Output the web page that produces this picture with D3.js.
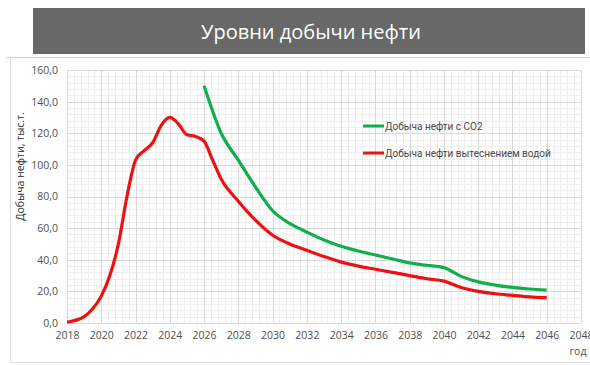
<!DOCTYPE html>
<html>
<head>
<meta charset="utf-8">
<script src="https://cdn.jsdelivr.net/npm/d3@7"></script>
<style>
  body { margin: 0; background: #fff; }
  text { font-family: "Open Sans", "DejaVu Sans", sans-serif; }
</style>
</head>
<body>
<div id="vis"></div>
<script>
// Oil production levels chart

/* *************************** Data ***************************** */
var waterYears = [2018, 2019, 2019.5, 2020, 2020.5, 2021, 2021.5, 2022, 2022.5, 2023, 2023.5,
    2024, 2024.5, 2025, 2025.5, 2026, 2026.5, 2027, 2028, 2029, 2030, 2031, 2032, 2033,
    2034, 2035, 2036, 2037, 2038, 2039, 2040, 2041, 2042, 2043, 2044, 2045, 2046];
var waterValues = [0.5, 4, 9, 17, 30, 50, 80, 103, 109, 114, 125,
    130, 126, 119, 118, 115, 103, 91, 77, 65, 55.5, 50, 46, 42,
    38.5, 36, 34, 32, 30, 28, 26.5, 22.5, 20, 18.5, 17.5, 16.5, 16];

var co2Years = [2026, 2027, 2028, 2029, 2030, 2031, 2032, 2033, 2034, 2035, 2036, 2037,
    2038, 2039, 2040, 2041, 2042, 2043, 2044, 2045, 2046];
var co2Values = [150, 120, 103, 86, 71, 63, 57.5, 52.5, 48.5, 45.5, 43, 40.5,
    38, 36.5, 35, 29.5, 26, 24, 22.5, 21.5, 20.8];

var xTicks = d3.range(2018, 2049, 2);
var yTicks = d3.range(0, 161, 20);

var seriesNames = ['Добыча  нефти с CO2', 'Добыча  нефти вытеснением водой'];
var chartTitle = 'Уровни добычи нефти';
var yTitle = 'Добыча нефти, тыс.т.';
var xTitle = 'год';

/* *************************** Settings ***************************** */
var width = 590;
var height = 365;
var margin = { left: 67, right: 9, top: 70, bottom: 42 };
var drawWidth = width - margin.left - margin.right;
var drawHeight = height - margin.top - margin.bottom;

var svg = d3.select('#vis')
    .append('svg')
    .attr('width', width)
    .attr('height', height);

// Title bar
svg.append('rect')
    .attr('x', 33).attr('y', 8)
    .attr('width', 552).attr('height', 46)
    .attr('fill', '#686868');
svg.append('text')
    .attr('x', 311).attr('y', 39)
    .attr('text-anchor', 'middle')
    .attr('fill', '#fff')
    .style('font-size', '20px')
    .text(chartTitle);

// Chart frame lines
svg.append('line').attr('x1', 6).attr('x2', 590).attr('y1', 57.5).attr('y2', 57.5)
    .attr('stroke', '#d4d4d4');
svg.append('line').attr('x1', 10.5).attr('x2', 10.5).attr('y1', 57).attr('y2', 363)
    .attr('stroke', '#e0e0e0');
svg.append('line').attr('x1', 10).attr('x2', 590).attr('y1', 362.5).attr('y2', 362.5)
    .attr('stroke', '#e0e0e0');

var g = svg.append('g')
    .attr('transform', 'translate(' + margin.left + ',' + margin.top + ')');

/* *************************** Scales ***************************** */
var xScale = d3.scaleLinear().domain([2018, 2048]).range([0, drawWidth]);
var yScale = d3.scaleLinear().domain([0, 160]).range([drawHeight, 0]);

// Minor grid
var minorX = d3.range(2018, 2048.01, 0.4);
var minorY = d3.range(0, 160.01, 4);
g.selectAll('.minorx').data(minorX).enter().append('line')
    .attr('x1', function(d) { return Math.round(xScale(d)) + 0.5; })
    .attr('x2', function(d) { return Math.round(xScale(d)) + 0.5; })
    .attr('y1', 0).attr('y2', drawHeight)
    .attr('stroke', '#eeeeee');
g.selectAll('.minory').data(minorY).enter().append('line')
    .attr('y1', function(d) { return Math.round(yScale(d)) + 0.5; })
    .attr('y2', function(d) { return Math.round(yScale(d)) + 0.5; })
    .attr('x1', 0).attr('x2', drawWidth)
    .attr('stroke', '#eeeeee');

// Major grid
g.selectAll('.majorx').data(xTicks).enter().append('line')
    .attr('x1', function(d) { return Math.round(xScale(d)) + 0.5; })
    .attr('x2', function(d) { return Math.round(xScale(d)) + 0.5; })
    .attr('y1', 0).attr('y2', drawHeight)
    .attr('stroke', '#d9d9d9');
g.selectAll('.majory').data(yTicks).enter().append('line')
    .attr('y1', function(d) { return Math.round(yScale(d)) + 0.5; })
    .attr('y2', function(d) { return Math.round(yScale(d)) + 0.5; })
    .attr('x1', 0).attr('x2', drawWidth)
    .attr('stroke', '#d9d9d9');

/* *************************** Axes ***************************** */
var fmt = function(d) { return d3.format('.1f')(d).replace('.', ','); };

var xAxis = d3.axisBottom(xScale).tickValues(xTicks).tickFormat(d3.format('d')).tickSize(0).tickPadding(9);
var yAxis = d3.axisLeft(yScale).tickValues(yTicks).tickFormat(fmt).tickSize(0).tickPadding(9);

var xAxisG = g.append('g')
    .attr('transform', 'translate(0,' + drawHeight + ')')
    .call(xAxis);
var yAxisG = g.append('g').call(yAxis);

[xAxisG, yAxisG].forEach(function(a) {
    a.select('.domain').remove();
    a.selectAll('text')
        .attr('fill', '#505050')
        .style('font-size', '10.5px')
        .style('font-family', '"Open Sans", sans-serif');
});

// Axis titles
svg.append('text')
    .attr('transform', 'translate(24,' + (margin.top + drawHeight / 2 - 30) + ') rotate(-90)')
    .attr('text-anchor', 'middle')
    .attr('fill', '#303030')
    .style('font-size', '10.5px')
    .text(yTitle);
svg.append('text')
    .attr('x', 578).attr('y', 355)
    .attr('text-anchor', 'middle')
    .attr('fill', '#505050')
    .style('font-size', '10.5px')
    .text(xTitle);

/* *************************** Lines ***************************** */
var line = d3.line()
    .x(function(d) { return xScale(d[0]); })
    .y(function(d) { return yScale(d[1]); })
    .curve(d3.curveMonotoneX);

var co2Data = d3.zip(co2Years, co2Values);
var waterData = d3.zip(waterYears, waterValues);

g.append('path')
    .datum(co2Data)
    .attr('d', line)
    .attr('fill', 'none')
    .attr('stroke', '#12ad4f')
    .attr('stroke-width', 3.2);

g.append('path')
    .datum(waterData)
    .attr('d', line)
    .attr('fill', 'none')
    .attr('stroke', '#ee1111')
    .attr('stroke-width', 3.2);

/* *************************** Legend ***************************** */
var legendColors = ['#12ad4f', '#ee1111'];
var legend = svg.selectAll('.legend').data(seriesNames).enter().append('g')
    .attr('transform', function(d, i) { return 'translate(363,' + (126 + i * 27) + ')'; });
legend.append('line')
    .attr('x1', 0).attr('x2', 21)
    .attr('stroke', function(d, i) { return legendColors[i]; })
    .attr('stroke-width', 3);
legend.append('text')
    .attr('x', 22).attr('y', 4)
    .attr('fill', '#4a4a4a')
    .style('font-size', '10px')
    .style('font-family', '"Liberation Sans Narrow", "Roboto", sans-serif')
    .text(function(d) { return d; });
</script>
</body>
</html>
